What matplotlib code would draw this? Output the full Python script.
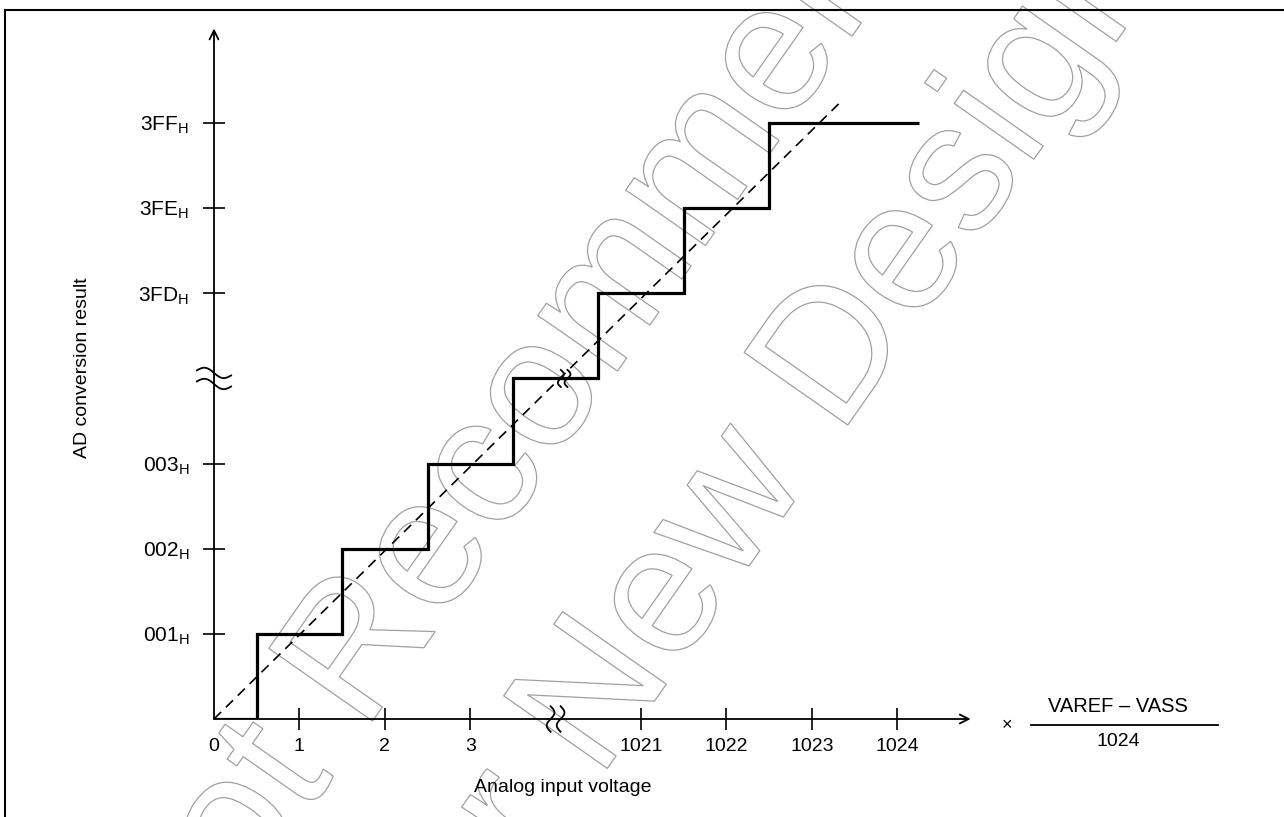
import numpy as np
import matplotlib
matplotlib.use('Agg')
import matplotlib.pyplot as plt
import matplotlib.transforms as mtransforms
from matplotlib.lines import Line2D
from matplotlib.patches import PathPatch
from matplotlib.textpath import TextPath
from matplotlib.font_manager import FontProperties

plt.rcParams['font.family'] = ['Liberation Sans', 'DejaVu Sans']
plt.rcParams['mathtext.fontset'] = 'custom'
plt.rcParams['mathtext.rm'] = 'Liberation Sans'
plt.rcParams['mathtext.default'] = 'regular'

# данные
x_ticks = [0, 1, 2, 3, 5, 6, 7, 8]
x_labels = ['0', '1', '2', '3', '1021', '1022', '1023', '1024']
y_ticks = [1, 2, 3, 5, 6, 7]
y_codes = ['001', '002', '003', '3FD', '3FE', '3FF']
x_break = 4
y_break = 4
step_edges = [0, 0.5, 1.5, 2.5, 3.5, 4.5, 5.5, 6.5, 8.25]
step_codes = [0, 1, 2, 3, 4, 5, 6, 7]
step_break = 4.1
ideal_x = [0, 7.33]
ideal_y = [0, 7.24]
wm_lines = ['Not Recommended', 'for New Design']
wm_keys = ['R', 'N']
wm_centres = [(352, 640), (585, 690)]

W, H = 1284, 817
unit_x, unit_y = 85.4, 85.14
origin = (214, 719)


def fx(px):
    return px / W


def fy(py):
    return 1 - py / H


fig = plt.figure(figsize=(W / 100, H / 100), dpi=100)
ax = fig.add_axes([fx(origin[0]), fy(origin[1]), 9 * unit_x / W, 8.2 * unit_y / H])
ax.set_xlim(0, 9)
ax.set_ylim(0, 8.2)
ax.patch.set_visible(False)
for s in ax.spines.values():
    s.set_visible(False)

# оси со стрелками
arrow = dict(arrowstyle='->', lw=1.3, color='black', shrinkA=0, shrinkB=0, mutation_scale=16)
ax.annotate('', xy=(8.86, 0), xytext=(0, 0), arrowprops=arrow, annotation_clip=False)
ax.annotate('', xy=(0, 8.11), xytext=(0, 0), arrowprops=arrow, annotation_clip=False)

ax.set_xticks(x_ticks)
ax.set_xticklabels(x_labels)
ax.set_yticks(y_ticks)
ax.set_yticklabels([c + '$_H$' for c in y_codes])
ax.tick_params(axis='both', direction='inout', length=16, width=1.2)
ax.tick_params(axis='x', labelsize=14, pad=6)
ax.tick_params(axis='y', labelsize=15, pad=10)
ax.xaxis.get_major_ticks()[0].tick1line.set_visible(False)

# ступенька и идеальная линия
ax.stairs(step_codes, step_edges, baseline=None, color='black', lw=2.3, zorder=3)
ax.plot(ideal_x, ideal_y, color='black', lw=1.2, ls=(0, (6, 4)), zorder=3)

# разрывы
t = np.linspace(-1, 1, 60)
for off in (-0.065, 0.065):
    ax.plot(t * 0.2, y_break + off - 0.045 * np.sin(np.pi * t) - 0.03 * t,
            color='black', lw=1.3, clip_on=False)
    ax.plot(x_break + off * 0.9 + 0.045 * np.sin(np.pi * t), t * 0.15,
            color='black', lw=1.3, clip_on=False)
    ax.plot(step_break + off * 0.6 + 0.035 * np.sin(np.pi * t), step_codes[4] + t * 0.1,
            color='black', lw=1.3, clip_on=False)

# подписи
fig.text(fx(83), fy(368), 'AD conversion result', rotation=90, ha='center', va='center', fontsize=14)
fig.text(fx(563), fy(788), 'Analog input voltage', ha='center', va='center', fontsize=14)
fig.text(fx(1007), fy(726), '×', ha='center', va='center', fontsize=13)
fig.text(fx(1118), fy(707), 'VAREF – VASS', ha='center', va='center', fontsize=14.5)
fig.text(fx(1118), fy(742), '1024', ha='center', va='center', fontsize=14)
fig.add_artist(Line2D([fx(1031), fx(1218)], [fy(725), fy(725)], color='black', lw=1.3,
                      transform=fig.transFigure))

# рамка
fig.add_artist(Line2D([fx(5.5), fx(5.5)], [fy(10), fy(H)], color='black', lw=1.5,
                      transform=fig.transFigure))
fig.add_artist(Line2D([fx(5.5), fx(W)], [fy(10), fy(10)], color='black', lw=1.5,
                      transform=fig.transFigure))

# водяной знак
wm_prop = FontProperties(family='Liberation Sans')
wm_size = 184
for line, key, centre in zip(wm_lines, wm_keys, wm_centres):
    i = line.index(key)
    path = TextPath((0, 0), line, size=wm_size, prop=wm_prop)
    right = TextPath((0, 0), line[:i + 1], size=wm_size, prop=wm_prop).get_extents()
    glyph = TextPath((0, 0), key, size=wm_size, prop=wm_prop).get_extents()
    cx = right.x1 - glyph.width / 2
    cy = (glyph.y0 + glyph.y1) / 2
    tr = mtransforms.Affine2D().translate(-cx, -cy).rotate_deg(55).translate(centre[0], H - centre[1])
    fig.add_artist(PathPatch(path, transform=tr, fc='none', ec='#a0a0a0', lw=0.9, zorder=-1))

fig.savefig('out.png', dpi=100)
